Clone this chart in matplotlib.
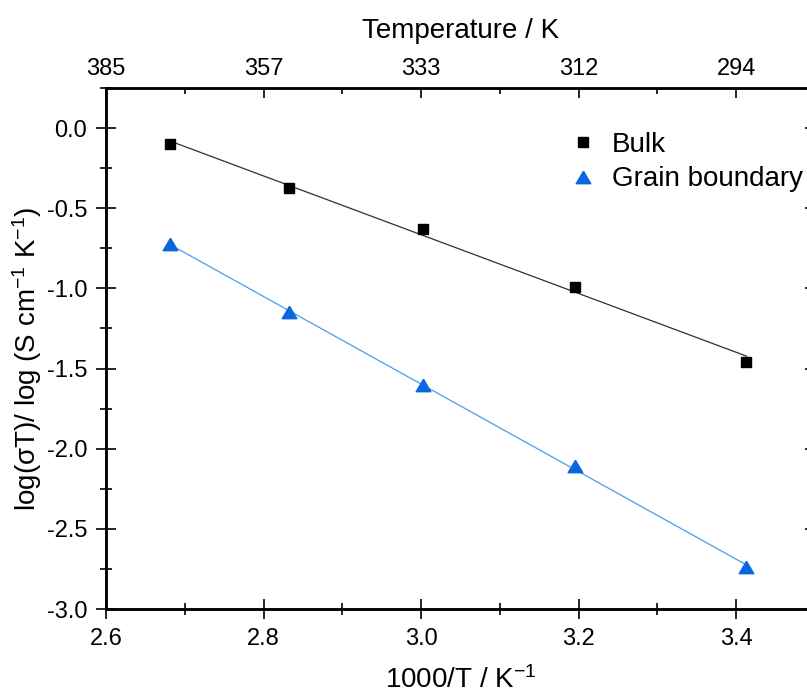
import numpy as np
import matplotlib
matplotlib.use('Agg')
import matplotlib.pyplot as plt
from matplotlib.ticker import MultipleLocator

plt.rcParams['font.family'] = ['Liberation Sans', 'DejaVu Sans']
plt.rcParams['mathtext.fontset'] = 'custom'
plt.rcParams['mathtext.rm'] = 'Liberation Sans'
plt.rcParams['mathtext.it'] = 'Liberation Sans'

# measurement temperatures and conductivities
temp_K = np.array([373, 353, 333, 313, 293])
inv_T = 1000.0 / temp_K
log_bulk = np.array([-0.10, -0.375, -0.63, -0.99, -1.46])
log_gb = np.array([-0.725, -1.15, -1.605, -2.105, -2.74])

top_ticks = [2.6, 2.8, 3.0, 3.2, 3.4]
top_labels = ['385', '357', '333', '312', '294']

fig = plt.figure(figsize=(8.07, 6.93), dpi=100)
ax = fig.add_axes([106/807, 84/693, (815-106)/807, (609-88)/693])

# linear Arrhenius fits
pb = np.polyfit(inv_T, log_bulk, 1)
pg = np.polyfit(inv_T, log_gb, 1)
xf = np.array([inv_T.min(), inv_T.max()])
ax.plot(xf, np.polyval(pb, xf), color='#303030', lw=0.9, zorder=2)
ax.plot(xf, np.polyval(pg, xf), color='#4b9cf0', lw=0.9, zorder=2)

tri = [(0, 0.85), (-1, -0.85), (1, -0.85), (0, 0.85)]
ax.plot(inv_T, log_bulk, 's', color='black', ms=7.7, label='Bulk', zorder=3)
ax.plot(inv_T, log_gb, marker=tri, ls='none', color='#0a66dc', ms=10.5,
        label='Grain boundary', zorder=3)

ax.set_xlim(2.6, 3.5)
ax.set_ylim(-3.0, 0.25)
ax.xaxis.set_major_locator(MultipleLocator(0.2))
ax.xaxis.set_minor_locator(MultipleLocator(0.1))
ax.yaxis.set_major_locator(MultipleLocator(0.5))
ax.yaxis.set_minor_locator(MultipleLocator(0.25))
ax.xaxis.set_major_formatter(plt.FormatStrFormatter('%.1f'))
ax.yaxis.set_major_formatter(plt.FormatStrFormatter('%.1f'))

for s in ax.spines.values():
    s.set_linewidth(1.8)

ax.tick_params(which='major', direction='inout', length=15, width=1.2, labelsize=17, pad=6)
ax.tick_params(which='minor', direction='inout', length=8, width=1.2)
ax.tick_params(which='both', top=False)
ax.tick_params(which='major', right=True)
ax.tick_params(which='minor', right=False)

ax.set_xlabel('1000/T / K$^{-1}$', fontsize=20)
ax.xaxis.set_label_coords(0.5, -0.11)
ax.set_ylabel('log(σT)/ log (S cm$^{-1}$ K$^{-1}$)', fontsize=20)
ax.yaxis.set_label_coords(-0.088, 0.48)

# temperature scale along the top
ax2 = ax.twiny()
ax2.set_xlim(ax.get_xlim())
ax2.set_xticks(top_ticks)
ax2.set_xticklabels(top_labels)
ax2.xaxis.set_minor_locator(MultipleLocator(0.1))
ax2.tick_params(which='major', direction='in', length=7.5, width=1.2, labelsize=17, pad=6)
ax2.tick_params(which='minor', direction='in', length=4.2, width=1.2)
ax2.set_xlabel('Temperature / K', fontsize=20)
ax2.xaxis.set_label_coords(0.5, 1.096)
for s in ax2.spines.values():
    s.set_linewidth(1.8)

ax.legend(loc='upper left', bbox_to_anchor=(0.637, 0.937), frameon=False, fontsize=20,
          handlelength=1.0, handletextpad=0.55, labelspacing=0.3, borderaxespad=0)

fig.savefig('out.png', dpi=100)
